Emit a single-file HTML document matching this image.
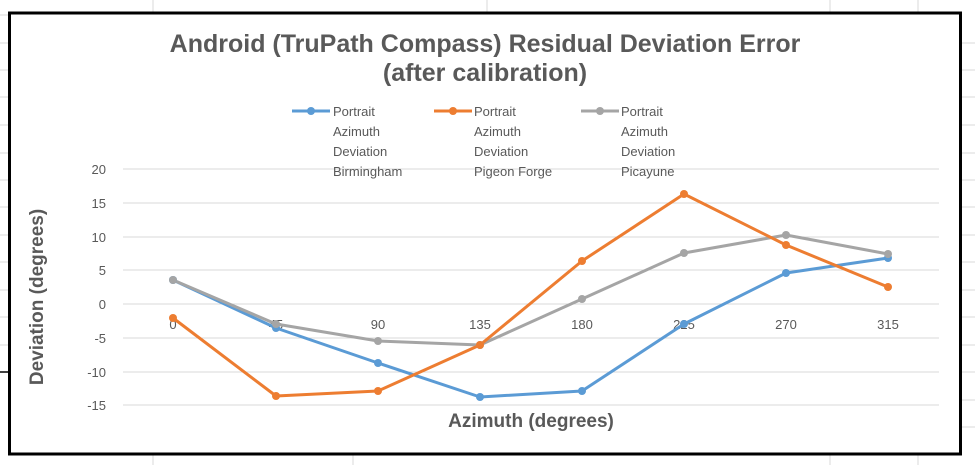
<!DOCTYPE html>
<html><head><style>
html,body{margin:0;padding:0;background:#fff;width:975px;height:465px;overflow:hidden}
svg text{font-family:"Liberation Sans",sans-serif}
</style></head><body>
<svg width="975" height="465" xmlns="http://www.w3.org/2000/svg">
<g stroke="#d9d9d9" stroke-width="1">
<line x1="153" y1="0" x2="153" y2="12"/><line x1="487" y1="0" x2="487" y2="12"/><line x1="830" y1="0" x2="830" y2="12"/><line x1="918" y1="0" x2="918" y2="12"/>
<line x1="153" y1="455" x2="153" y2="465"/><line x1="353" y1="455" x2="353" y2="465"/><line x1="830" y1="455" x2="830" y2="465"/><line x1="918" y1="455" x2="918" y2="465"/>
<line x1="0" y1="15" x2="8" y2="15"/><line x1="0" y1="43" x2="8" y2="43"/><line x1="0" y1="70" x2="8" y2="70"/><line x1="0" y1="97" x2="8" y2="97"/><line x1="0" y1="125" x2="8" y2="125"/><line x1="0" y1="153" x2="8" y2="153"/><line x1="0" y1="180" x2="8" y2="180"/><line x1="0" y1="207" x2="8" y2="207"/><line x1="0" y1="235" x2="8" y2="235"/><line x1="0" y1="262" x2="8" y2="262"/><line x1="0" y1="290" x2="8" y2="290"/><line x1="0" y1="317" x2="8" y2="317"/><line x1="0" y1="345" x2="8" y2="345"/>
<line x1="962" y1="43" x2="975" y2="43"/><line x1="962" y1="70" x2="975" y2="70"/><line x1="962" y1="97" x2="975" y2="97"/><line x1="962" y1="125" x2="975" y2="125"/><line x1="962" y1="153" x2="975" y2="153"/><line x1="962" y1="180" x2="975" y2="180"/><line x1="962" y1="207" x2="975" y2="207"/><line x1="962" y1="235" x2="975" y2="235"/><line x1="962" y1="262" x2="975" y2="262"/><line x1="962" y1="290" x2="975" y2="290"/><line x1="962" y1="317" x2="975" y2="317"/><line x1="962" y1="345" x2="975" y2="345"/><line x1="962" y1="372" x2="975" y2="372"/><line x1="962" y1="400" x2="975" y2="400"/><line x1="962" y1="427" x2="975" y2="427"/>
</g>
<line x1="0" y1="372" x2="9" y2="372" stroke="#000" stroke-width="1.5"/>
<rect x="9.5" y="13" width="951" height="441" fill="#fff" stroke="#000" stroke-width="3"/>
<text x="485" y="52" text-anchor="middle" font-size="25" font-weight="bold" fill="#595959">Android (TruPath Compass) Residual Deviation Error</text>
<text x="485" y="81" text-anchor="middle" font-size="25" font-weight="bold" fill="#595959">(after calibration)</text>
<g stroke="#d9d9d9" stroke-width="1">
<line x1="123" y1="169" x2="939" y2="169"/><line x1="123" y1="203" x2="939" y2="203"/><line x1="123" y1="237" x2="939" y2="237"/><line x1="123" y1="270" x2="939" y2="270"/><line x1="123" y1="304" x2="939" y2="304"/><line x1="123" y1="338" x2="939" y2="338"/><line x1="123" y1="372" x2="939" y2="372"/><line x1="123" y1="405" x2="939" y2="405"/>
</g>
<g font-size="13" fill="#595959" text-anchor="end">
<text x="106" y="174">20</text><text x="106" y="208">15</text><text x="106" y="242">10</text><text x="106" y="275">5</text><text x="106" y="309">0</text><text x="106" y="343">-5</text><text x="106" y="377">-10</text><text x="106" y="410">-15</text>
</g>
<g font-size="13" fill="#595959" text-anchor="middle">
<text x="173" y="329">0</text><text x="276" y="329">45</text><text x="378" y="329">90</text><text x="480" y="329">135</text><text x="582" y="329">180</text><text x="684" y="329">225</text><text x="786" y="329">270</text><text x="888" y="329">315</text>
</g>
<text transform="translate(43,297) rotate(-90)" text-anchor="middle" font-size="19" font-weight="bold" fill="#595959">Deviation (degrees)</text>
<text x="531" y="427" text-anchor="middle" font-size="19" font-weight="bold" fill="#595959">Azimuth (degrees)</text>
<g fill="none" stroke-width="3" stroke-linejoin="round">
<polyline stroke="#5b9bd5" points="173,280 276,328 378,363 480,397 582,391 684,324 786,273 888,258"/>
<polyline stroke="#a5a5a5" points="173,280 276,324 378,341 480,345 582,299 684,253 786,235 888,254"/>
<polyline stroke="#ed7d31" points="173,318 276,396 378,391 480,345 582,261 684,194 786,245 888,287"/>
</g>
<g fill="#5b9bd5"><circle cx="173" cy="280" r="4"/><circle cx="276" cy="328" r="4"/><circle cx="378" cy="363" r="4"/><circle cx="480" cy="397" r="4"/><circle cx="582" cy="391" r="4"/><circle cx="684" cy="324" r="4"/><circle cx="786" cy="273" r="4"/><circle cx="888" cy="258" r="4"/></g>
<g fill="#a5a5a5"><circle cx="173" cy="280" r="4"/><circle cx="276" cy="324" r="4"/><circle cx="378" cy="341" r="4"/><circle cx="480" cy="345" r="4"/><circle cx="582" cy="299" r="4"/><circle cx="684" cy="253" r="4"/><circle cx="786" cy="235" r="4"/><circle cx="888" cy="254" r="4"/></g>
<g fill="#ed7d31"><circle cx="173" cy="318" r="4"/><circle cx="276" cy="396" r="4"/><circle cx="378" cy="391" r="4"/><circle cx="480" cy="345" r="4"/><circle cx="582" cy="261" r="4"/><circle cx="684" cy="194" r="4"/><circle cx="786" cy="245" r="4"/><circle cx="888" cy="287" r="4"/></g>
<line x1="292" y1="111" x2="330" y2="111" stroke="#5b9bd5" stroke-width="3"/><circle cx="311" cy="111" r="4" fill="#5b9bd5"/>
<line x1="434" y1="111" x2="472" y2="111" stroke="#ed7d31" stroke-width="3"/><circle cx="453" cy="111" r="4" fill="#ed7d31"/>
<line x1="581" y1="111" x2="619" y2="111" stroke="#a5a5a5" stroke-width="3"/><circle cx="600" cy="111" r="4" fill="#a5a5a5"/>
<g font-size="13" fill="#595959">
<text x="333" y="116">Portrait</text><text x="333" y="136">Azimuth</text><text x="333" y="156">Deviation</text><text x="333" y="176">Birmingham</text>
<text x="474" y="116">Portrait</text><text x="474" y="136">Azimuth</text><text x="474" y="156">Deviation</text><text x="474" y="176">Pigeon Forge</text>
<text x="621" y="116">Portrait</text><text x="621" y="136">Azimuth</text><text x="621" y="156">Deviation</text><text x="621" y="176">Picayune</text>
</g>
</svg>
</body></html>
